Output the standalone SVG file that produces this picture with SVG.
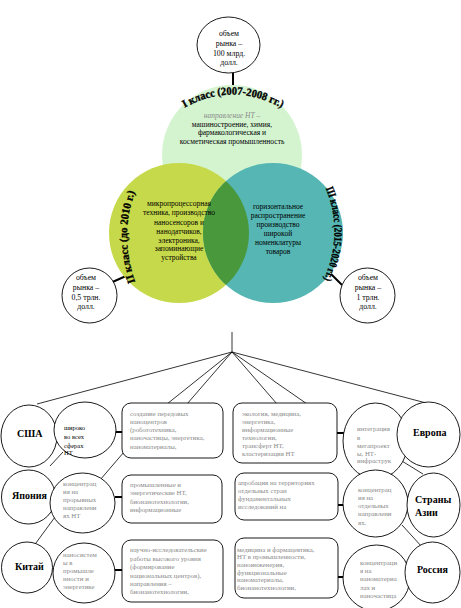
<svg xmlns="http://www.w3.org/2000/svg" width="461" height="608" viewBox="0 0 461 608">
<style>
.t{font-family:"Liberation Serif","Times New Roman",serif;font-size:7.5px;fill:#000}
.s{font-family:"Liberation Serif","Times New Roman",serif;font-size:7.8px;fill:#000}
.g{font-family:"Liberation Serif","Times New Roman",serif;font-size:6.8px;fill:#8a8a8a}
.b{font-family:"Liberation Serif","Times New Roman",serif;font-size:10px;font-weight:bold;fill:#000}
.arc{font-family:"Liberation Serif","Times New Roman",serif;font-size:11px;font-weight:bold;fill:#000;stroke:#000;stroke-width:0.35}
.c{text-anchor:middle}
.ln{stroke:#000;stroke-width:0.8;fill:none}
.thk{stroke:#000;stroke-width:2;fill:none}
.nd{fill:#fff;stroke:#000;stroke-width:0.9}
</style>
<defs>
<clipPath id="clipR"><circle cx="273" cy="233" r="70"/></clipPath>
<path id="arcTop" d="M 176,113 Q 232,76 290,113"/>
<path id="arcLeft" d="M 140,294 Q 114,235 140,180"/>
<path id="arcRight" d="M 322,180 Q 348,232 320,288"/>
</defs>

<g id="connectors">
<line class="thk" x1="233" y1="73" x2="233" y2="86"/>
<line class="thk" x1="108" y1="284" x2="126" y2="276"/>
<line class="thk" x1="331" y1="274" x2="342" y2="285"/>
<line class="ln" x1="232" y1="332" x2="232" y2="352"/>
<line class="ln" x1="232" y1="352" x2="37" y2="404"/>
<line class="ln" x1="232" y1="352" x2="167" y2="404"/>
<line class="ln" x1="232" y1="352" x2="187" y2="404"/>
<line class="ln" x1="232" y1="352" x2="277" y2="404"/>
<line class="ln" x1="232" y1="352" x2="310" y2="406"/>
<line class="ln" x1="232" y1="352" x2="430" y2="404"/>
<line class="ln" x1="124" y1="452" x2="100" y2="480"/>
<line class="ln" x1="63" y1="452" x2="50" y2="466"/>
<line class="ln" x1="55" y1="517" x2="33" y2="547"/>
<line class="ln" x1="397" y1="458" x2="423" y2="474"/>
<line class="ln" x1="402" y1="525" x2="422" y2="547"/>
<line class="thk" x1="115" y1="432" x2="122" y2="432"/>
<line class="thk" x1="115" y1="497" x2="122" y2="497"/>
<line class="thk" x1="115" y1="570" x2="122" y2="570"/>
<line class="thk" x1="337" y1="433" x2="345" y2="433"/>
<line class="thk" x1="338" y1="505" x2="345" y2="505"/>
<line class="thk" x1="338" y1="577" x2="347" y2="577"/>
</g>

<g id="venn-top">
<circle cx="232" cy="155" r="70" fill="#d4f4d0"/>
</g>
<g id="venn-left">
<circle cx="179" cy="233" r="70" fill="#c6d94a"/>
</g>
<g id="venn-right">
<circle cx="273" cy="233" r="70" fill="#55b6b3"/>
<circle cx="179" cy="233" r="70" fill="#4a983c" clip-path="url(#clipR)"/>
</g>

<g id="venn-texts">
<text class="arc"><textPath href="#arcTop" startOffset="50%" text-anchor="middle" textLength="102" lengthAdjust="spacingAndGlyphs">I класс (2007-2008 гг.)</textPath></text>
<text class="arc"><textPath href="#arcLeft" startOffset="50%" text-anchor="middle" textLength="92" lengthAdjust="spacingAndGlyphs">II класс (до 2010 г.)</textPath></text>
<text class="arc"><textPath href="#arcRight" startOffset="50%" text-anchor="middle" textLength="94" lengthAdjust="spacingAndGlyphs">III класс (2015-2020 гг.)</textPath></text>
<text class="t c" x="232" y="118" style="font-style:italic;fill:#8a8a8a">направление НТ –</text>
<text class="t c" x="232" y="127">машиностроение, химия,</text>
<text class="t c" x="232" y="135">фармакологическая и</text>
<text class="t c" x="232" y="144">косметическая промышленность</text>
<text class="t c" x="179" y="206">микропроцессорная</text>
<text class="t c" x="179" y="215">техника, производство</text>
<text class="t c" x="179" y="225">наносенсоров и</text>
<text class="t c" x="179" y="234">нанодатчиков,</text>
<text class="t c" x="179" y="243">электроника,</text>
<text class="t c" x="179" y="251">запоминающие</text>
<text class="t c" x="179" y="260">устройства</text>
<text class="t c" x="278" y="209">горизонтальное</text>
<text class="t c" x="278" y="218">распространение</text>
<text class="t c" x="278" y="227">производство</text>
<text class="t c" x="278" y="236">широкой</text>
<text class="t c" x="278" y="245">номенклатуры</text>
<text class="t c" x="278" y="254">товаров</text>
</g>

<g id="market-top">
<ellipse class="nd" cx="228.5" cy="45" rx="31.5" ry="28"/>
<text class="s c" x="229" y="36">объем</text>
<text class="s c" x="229" y="46">рынка –</text>
<text class="s c" x="229" y="56">100 млрд.</text>
<text class="s c" x="229" y="65">долл.</text>
</g>
<g id="market-left">
<circle class="nd" cx="89.5" cy="295.5" r="27.5"/>
<text class="s c" x="86" y="280">объем</text>
<text class="s c" x="86" y="290">рынка –</text>
<text class="s c" x="86" y="300">0,5 трлн.</text>
<text class="s c" x="86" y="309">долл.</text>
</g>
<g id="market-right">
<circle class="nd" cx="367.5" cy="295.5" r="27.5"/>
<text class="s c" x="368" y="280">объем</text>
<text class="s c" x="368" y="290">рынка –</text>
<text class="s c" x="368" y="300">1 трлн.</text>
<text class="s c" x="368" y="309">долл.</text>
</g>

<g id="usa">
<ellipse class="nd" cx="29" cy="436" rx="28" ry="31"/>
<text class="b" x="17" y="437">США</text>
</g>
<g id="usa-focus">
<ellipse class="nd" cx="85" cy="430" rx="31" ry="28"/>
<text class="s" x="64" y="430" style="font-size:6.5px">широко</text>
<text class="s" x="64" y="439" style="font-size:6.5px">во всех</text>
<text class="s" x="64" y="448" style="font-size:6.5px">сферах</text>
<text class="s" x="64" y="455" style="font-size:6.5px">НТ</text>
</g>
<g id="usa-box1">
<rect class="nd" x="122" y="403" width="101" height="55" rx="9"/>
<text class="g" x="130" y="416">создание передовых</text>
<text class="g" x="130" y="424">наноцентров</text>
<text class="g" x="130" y="432">(робототехника,</text>
<text class="g" x="130" y="440">наночастицы, энергетика,</text>
<text class="g" x="130" y="449">наноматериалы,</text>
</g>
<g id="usa-box2">
<rect class="nd" x="233" y="403" width="104" height="60" rx="9"/>
<text class="g" x="242" y="416">экология, медицина,</text>
<text class="g" x="242" y="424">энергетика,</text>
<text class="g" x="242" y="432">информационные</text>
<text class="g" x="242" y="440">технологии,</text>
<text class="g" x="242" y="448">трансферт НТ,</text>
<text class="g" x="242" y="456">кластеризация НТ</text>
</g>
<g id="eu-focus">
<ellipse class="nd" cx="375.5" cy="441" rx="32.5" ry="38"/>
<text class="g" x="357" y="431">интеграция</text>
<text class="g" x="357" y="440">в</text>
<text class="g" x="357" y="448">мегапроект</text>
<text class="g" x="357" y="456">ы, НТ-</text>
<text class="g" x="357" y="463">инфраструк</text>
</g>
<g id="europe">
<ellipse class="nd" cx="428.5" cy="434.5" rx="31.5" ry="32.5"/>
<text class="b" x="413" y="436">Европа</text>
</g>

<g id="japan">
<circle class="nd" cx="28.5" cy="497" r="27"/>
<text class="b" x="12" y="499">Япония</text>
</g>
<g id="japan-focus">
<ellipse class="nd" cx="82.5" cy="503" rx="32.5" ry="30"/>
<text class="g" x="63" y="486">концентрац</text>
<text class="g" x="63" y="494">ия на</text>
<text class="g" x="63" y="502">прорывных</text>
<text class="g" x="63" y="510">направлени</text>
<text class="g" x="63" y="518">ях НТ</text>
</g>
<g id="japan-box1">
<rect class="nd" x="122" y="475" width="100" height="48" rx="9"/>
<text class="g" x="130" y="487">промышленные и</text>
<text class="g" x="130" y="495">энергетические НТ,</text>
<text class="g" x="130" y="504">бионанотехнологии,</text>
<text class="g" x="130" y="512">информационные</text>
</g>
<g id="asia-box">
<rect class="nd" x="235" y="473" width="103" height="47" rx="9"/>
<text class="g" x="238" y="485">апробация на территориях</text>
<text class="g" x="238" y="493">отдельных стран</text>
<text class="g" x="238" y="501">фундаментальных</text>
<text class="g" x="238" y="509">исследований на</text>
</g>
<g id="asia-focus">
<ellipse class="nd" cx="375.5" cy="503.5" rx="32.5" ry="33.5"/>
<text class="g" x="358" y="492">концентрац</text>
<text class="g" x="358" y="500">ия на</text>
<text class="g" x="358" y="508">отдельных</text>
<text class="g" x="358" y="516">направлени</text>
<text class="g" x="358" y="525">ях.</text>
</g>
<g id="asia">
<ellipse class="nd" cx="433.5" cy="505" rx="26.5" ry="32"/>
<text class="b" x="415" y="503">Страны</text>
<text class="b" x="415" y="516">Азии</text>
</g>

<g id="china">
<circle class="nd" cx="27" cy="567.5" r="25.5"/>
<text class="b" x="15" y="570">Китай</text>
</g>
<g id="china-focus">
<ellipse class="nd" cx="84" cy="573" rx="31" ry="30"/>
<text class="g" x="63" y="557">наносистем</text>
<text class="g" x="63" y="565">ы в</text>
<text class="g" x="63" y="573">промышле</text>
<text class="g" x="63" y="581">нности и</text>
<text class="g" x="63" y="589">энергетике</text>
</g>
<g id="china-box">
<rect class="nd" x="122" y="540" width="101" height="62" rx="9"/>
<text class="g" x="130" y="552">научно-исследовательские</text>
<text class="g" x="130" y="561">работы высокого уровня</text>
<text class="g" x="130" y="569">(формирование</text>
<text class="g" x="130" y="578">национальных центров),</text>
<text class="g" x="130" y="586">направления –</text>
<text class="g" x="130" y="594">бионанотехнологии,</text>
</g>
<g id="russia-box">
<rect class="nd" x="235" y="538" width="103" height="60" rx="9"/>
<text class="g" x="237" y="552">медицина и фармацевтика,</text>
<text class="g" x="237" y="559">НТ в промышленности,</text>
<text class="g" x="237" y="567">наноинженерия,</text>
<text class="g" x="237" y="575">функциональные</text>
<text class="g" x="237" y="582">наноматериалы,</text>
<text class="g" x="237" y="590">бионанотехнологии,</text>
</g>
<g id="russia-focus">
<ellipse class="nd" cx="376.5" cy="578" rx="33.5" ry="33"/>
<text class="g" x="360" y="565">концентраци</text>
<text class="g" x="360" y="573">я на</text>
<text class="g" x="360" y="581">наноматериа</text>
<text class="g" x="360" y="590">лах и</text>
<text class="g" x="360" y="598">наночастица</text>
</g>
<g id="russia">
<ellipse class="nd" cx="432.5" cy="572.5" rx="27.5" ry="30.5"/>
<text class="b" x="417" y="573">Россия</text>
</g>
</svg>
